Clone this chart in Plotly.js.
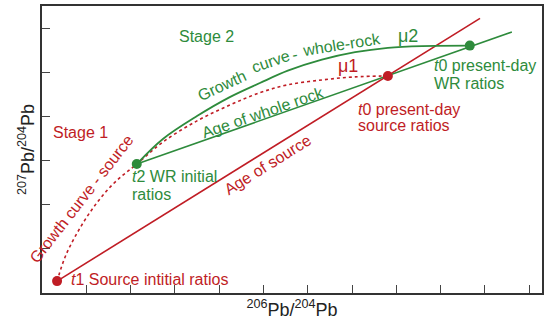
<!DOCTYPE html>
<html>
<head>
<meta charset="utf-8">
<script src="https://cdn.plot.ly/plotly-3.0.1.min.js"></script>
<style>html,body{margin:0;padding:0;background:#fff;}#chart{width:546px;height:320px;}</style>
</head>
<body>
<div id="chart"></div>
<script>
// ---- data (schematic Pb-Pb evolution diagram) ----
const srcGrowthX = [0.34, 0.54, 0.86, 1.24, 1.65, 2.14, 2.73, 3.50, 4.24, 4.92, 5.55, 6.32, 7.07, 7.81];
const srcGrowthY = [0.27, 0.86, 1.48, 2.05, 2.52, 2.93, 3.43, 3.91, 4.27, 4.55, 4.73, 4.84, 4.91, 4.93];
const wrGrowthX = [2.14, 2.73, 3.50, 4.24, 4.92, 5.55, 6.32, 7.07, 7.81, 8.58, 9.66];
const wrGrowthY = [2.93, 3.50, 4.02, 4.45, 4.77, 5.05, 5.30, 5.47, 5.57, 5.61, 5.62];
const srcAgeX = [0.34, 9.89];
const srcAgeY = [0.27, 6.24];
const wrAgeX = [2.14, 10.61];
const wrAgeY = [2.93, 5.93];
const redPtsX = [0.34, 7.81];
const redPtsY = [0.27, 4.93];
const greenPtsX = [2.14, 9.66];
const greenPtsY = [2.93, 5.62];

const RED = '#c01d25';
const GREEN = '#2e8b3c';
const FONT = 'Liberation Sans, Arial, Helvetica, sans-serif';

const traces = [
  {x: srcAgeX, y: srcAgeY, mode: 'lines', line: {color: RED, width: 1.6}, hoverinfo: 'skip'},
  {x: wrAgeX, y: wrAgeY, mode: 'lines', line: {color: GREEN, width: 1.6}, hoverinfo: 'skip'},
  {x: srcGrowthX, y: srcGrowthY, mode: 'lines', line: {color: RED, width: 1.6, dash: 'dot', shape: 'spline'}, hoverinfo: 'skip'},
  {x: wrGrowthX, y: wrGrowthY, mode: 'lines', line: {color: GREEN, width: 1.8, shape: 'spline'}, hoverinfo: 'skip'},
  {x: redPtsX, y: redPtsY, mode: 'markers', marker: {color: RED, size: 10}, hoverinfo: 'skip'},
  {x: greenPtsX, y: greenPtsY, mode: 'markers', marker: {color: GREEN, size: 10}, hoverinfo: 'skip'}
];

function ann(text, x, y, color, opts) {
  return Object.assign({
    text: text, x: x, y: y, xref: 'x', yref: 'y', showarrow: false,
    font: {family: FONT, size: 16, color: color},
    xanchor: 'center', yanchor: 'middle'
  }, opts || {});
}

const annotations = [
  ann('Stage 2', 3.72, 5.82, GREEN),
  ann('Stage 1', 0.88, 3.64, RED),
  ann('\u03bc2', 8.26, 5.84, GREEN, {font: {family: FONT, size: 18, color: GREEN}}),
  ann('\u03bc1', 6.91, 5.16, RED, {font: {family: FONT, size: 18, color: RED}}),
  ann('Growth', 4.07, 4.72, GREEN, {textangle: -25}),
  ann('curve', 5.15, 5.27, GREEN, {textangle: -19}),
  ann('-', 5.71, 5.42, GREEN, {textangle: -12}),
  ann('whole-rock', 6.77, 5.64, GREEN, {textangle: -9}),
  ann('Age of whole rock', 4.99, 4.09, GREEN, {textangle: -19}),
  ann('Age of source', 5.10, 2.93, RED, {textangle: -32}),
  ann('Growth curve - source', 0.90, 2.14, RED, {textangle: -52}),
  ann('<i>t</i>1 Source intitial ratios', 0.62, 0.30, RED, {xanchor: 'left'}),
  ann('<i>t</i>2 WR initial', 1.98, 2.64, GREEN, {xanchor: 'left'}),
  ann('ratios', 1.98, 2.23, GREEN, {xanchor: 'left'}),
  ann('<i>t</i>0 present-day', 8.80, 5.16, GREEN, {xanchor: 'left'}),
  ann('WR ratios', 8.80, 4.77, GREEN, {xanchor: 'left'}),
  ann('<i>t</i>0 present-day', 7.10, 4.18, RED, {xanchor: 'left'}),
  ann('source ratios', 7.10, 3.80, RED, {xanchor: 'left'})
];

const axisCommon = {
  showgrid: false, zeroline: false, showticklabels: false,
  ticks: 'inside', ticklen: 8, tickwidth: 1, tickcolor: '#444',
  showline: true, mirror: true, linewidth: 2, linecolor: '#333',
  dtick: 1, tick0: 0, automargin: false, fixedrange: true
};

const layout = {
  width: 546, height: 320,
  margin: {l: 42, r: 4, t: 6, b: 27},
  paper_bgcolor: '#fff', plot_bgcolor: '#fff',
  showlegend: false,
  font: {family: FONT, color: '#222'},
  xaxis: Object.assign({}, axisCommon, {
    range: [0, 11.29],
    title: {text: '<sup>206</sup>Pb/<sup>204</sup>Pb', font: {family: FONT, size: 18, color: '#222'}, standoff: 10}
  }),
  yaxis: Object.assign({}, axisCommon, {
    range: [0, 6.52],
    title: {text: '<sup>207</sup>Pb/<sup>204</sup>Pb', font: {family: FONT, size: 18, color: '#222'}, standoff: 1}
  }),
  annotations: annotations
};

Plotly.newPlot('chart', traces, layout, {staticPlot: true, displayModeBar: false});
</script>
</body>
</html>
